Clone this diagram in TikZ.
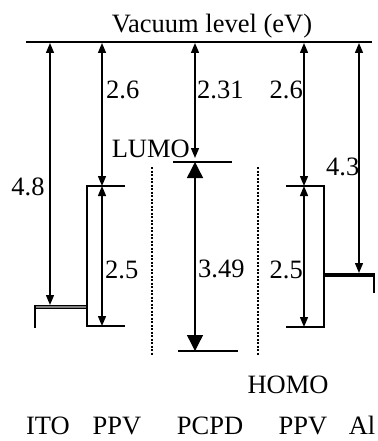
\documentclass[tikz,border=0pt]{standalone}
\usepackage{fontspec}
\setmainfont{Liberation Serif}
\usetikzlibrary{arrows.meta}

\begin{document}
\begin{tikzpicture}[x=1pt,y=-1pt,
  every node/.style={font=\fontsize{26.5}{30}\selectfont,inner sep=0pt},
  level/.style={line width=1.4pt},
  gap/.style={line width=1.4pt,{Triangle[length=10pt,width=8pt]}-{Triangle[length=10pt,width=8pt]}},
  biggap/.style={line width=1.4pt,{Triangle[length=16pt,width=16pt]}-{Triangle[length=16pt,width=16pt]}},
  divider/.style={line width=1.2pt,dash pattern=on 2pt off 1.5pt}]
\useasboundingbox (0,0) rectangle (377,441);

% Vacuum level
\node[anchor=base] (vac) at (212,33) {Vacuum level (eV)};
\draw[line width=2pt] (26,42) -- (372,42);
\coordinate (vITO) at (50,43);
\coordinate (vPPVa) at (102,43);
\coordinate (vPCPD) at (195,43);
\coordinate (vPPVb) at (304,43);
\coordinate (vAl) at (359,43);

% ITO
\coordinate (ito) at (50,305);
\draw[line width=4pt] (35,307) -- (87,307);
\draw[line width=1.4pt,gray] (36,307) -- (86,307);
\draw[level] (35,305) -- (35,328);
\draw[gap] (vITO) -- (ito);
\node[anchor=base] (wITO) at (28,195) {4.8};

% PPV (links)
\coordinate (lumoA) at (102,186);
\coordinate (homoA) at (102,326);
\draw[level] (125,186) -- (87,186) -- (87,326) -- (125,326);
\draw[gap] (vPPVa) -- (lumoA);
\draw[gap] (lumoA) -- (homoA);
\node[anchor=base west] (eaA) at (106,99) {2.6};
\node[anchor=base west] (egA) at (105,278) {2.5};

% PCPD
\coordinate (lumoC) at (195,162);
\coordinate (homoC) at (195,351);
\draw[level] (173,162) -- (232,162);
\draw[level] (178,351) -- (238,351);
\draw[gap] (vPCPD) -- (195,158);
\draw[biggap] (lumoC) -- (homoC);
\node[anchor=base west] (eaC) at (197,99) {2.31};
\node[anchor=base west] (egC) at (198,277) {3.49};
\node[anchor=base east] (lumo) at (190,157) {LUMO};
\node[anchor=base] (homo) at (288,393) {HOMO};

% ayraçlar
\draw[divider] (152,167) -- (152,355);
\draw[divider] (258,167) -- (258,355);

% PPV (rechts)
\coordinate (lumoB) at (304,186);
\coordinate (homoB) at (304,327);
\draw[level] (286,186) -- (324,186) -- (324,327) -- (286,327);
\draw[gap] (vPPVb) -- (lumoB);
\draw[gap] (lumoB) -- (homoB);
\node[anchor=base east] (eaB) at (303,99) {2.6};
\node[anchor=base east] (egB) at (303,278) {2.5};

% Al
\coordinate (al) at (359,273);
\draw[line width=4pt] (323,275) -- (375,275);
\draw[level] (374,275) -- (374,293);
\draw[gap] (vAl) -- (al);
\node[anchor=base west] (wAl) at (326,175) {4.3};

% Materialien
\node[anchor=base] (nITO) at (48,434) {ITO};
\node[anchor=base] (nPPVa) at (117,434) {PPV};
\node[anchor=base] (nPCPD) at (210,434) {PCPD};
\node[anchor=base] (nPPVb) at (303,434) {PPV};
\node[anchor=base] (nAl) at (362,434) {Al};
\end{tikzpicture}
\end{document}
